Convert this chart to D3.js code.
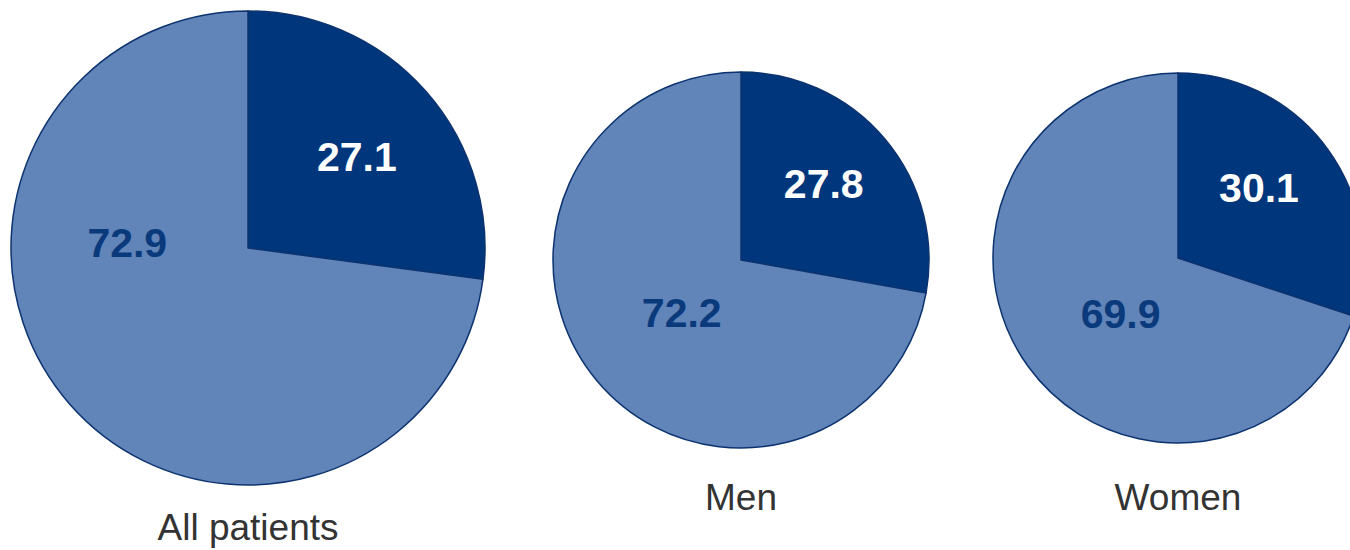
<!DOCTYPE html>
<html>
<head>
<meta charset="utf-8">
<script src="https://cdn.jsdelivr.net/npm/d3@7"></script>
<style>
  body { margin: 0; background: #fff; }
  svg { display: block; }
</style>
</head>
<body>
<div id="chart"></div>
<script>
// data
var groups = ["All patients", "Men", "Women"];
var darkValues = [27.1, 27.8, 30.1];
var lightValues = [72.9, 72.2, 69.9];

// layout of each pie (position, size, caption baseline, label tweaks in radians)
var layout = [
  {cx: 248, cy: 248, r: 237, captionY: 540, darkShift: 0.02, darkR: 0.60, lightShift: 0.77, lightR: 0.51},
  {cx: 741, cy: 260, r: 188, captionY: 510, darkShift: -0.05, darkR: 0.60, lightShift: -0.025, lightR: 0.42},
  {cx: 1178, cy: 258, r: 185, captionY: 510, darkShift: -0.09, darkR: 0.58, lightShift: -0.14, lightR: 0.43}
];

var width = 1350, height = 550;
var colour = d3.scaleOrdinal().domain(["dark", "light"]).range(["#00367b", "#6184b9"]);
var textColour = {dark: "#ffffff", light: "#0a3a7c"};

var svg = d3.select("#chart").append("svg")
  .attr("width", width).attr("height", height);

var pie = d3.pie().sort(null).value(function(d){ return d.value; });

groups.forEach(function(name, i){
  var L = layout[i];
  var data = [
    {key: "dark", value: darkValues[i]},
    {key: "light", value: lightValues[i]}
  ];
  var arc = d3.arc().innerRadius(0).outerRadius(L.r);
  var g = svg.append("g")
    .attr("transform", "translate(" + L.cx + "," + L.cy + ")");

  var arcs = pie(data);
  g.selectAll("path").data(arcs).enter().append("path")
    .attr("d", arc)
    .attr("fill", function(d){ return colour(d.data.key); })
    .attr("stroke", "#0c3370")
    .attr("stroke-width", 1.5)
    .attr("stroke-linejoin", "round");

  // value labels, placed near the slice middle
  g.selectAll("text.val").data(arcs).enter().append("text")
    .attr("class", "val")
    .attr("transform", function(d){
      var mid = (d.startAngle + d.endAngle) / 2;
      var dark = d.data.key === "dark";
      var a = mid + (dark ? L.darkShift : L.lightShift);
      var rr = L.r * (dark ? L.darkR : L.lightR);
      return "translate(" + (Math.sin(a) * rr) + "," + (-Math.cos(a) * rr) + ")";
    })
    .attr("dy", "0.36em")
    .attr("text-anchor", "middle")
    .attr("font-family", "Liberation Sans, Arial, sans-serif")
    .attr("font-weight", "bold")
    .attr("font-size", "41px")
    .attr("fill", function(d){ return textColour[d.data.key]; })
    .text(function(d){ return d3.format(".1f")(d.data.value); });

  svg.append("text")
    .attr("x", L.cx)
    .attr("y", L.captionY)
    .attr("text-anchor", "middle")
    .attr("font-family", "Liberation Sans, Arial, sans-serif")
    .attr("font-size", "37px")
    .attr("fill", "#333333")
    .text(name);
});
</script>
</body>
</html>
